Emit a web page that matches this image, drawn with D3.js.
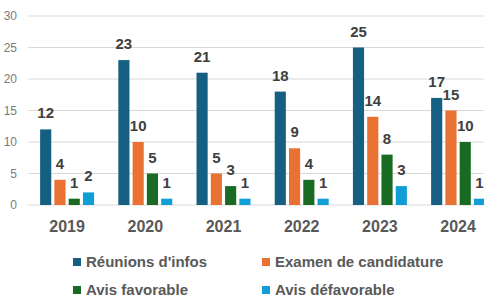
<!DOCTYPE html>
<html>
<head>
<meta charset="utf-8">
<script src="https://cdn.jsdelivr.net/npm/d3@7"></script>
<style>
  html, body { margin: 0; padding: 0; background: #ffffff; }
  svg { display: block; }
</style>
</head>
<body>
<svg id="chart" width="484" height="302"></svg>
<script>
const years = ["2019", "2020", "2021", "2022", "2023", "2024"];
const seriesNames = ["Réunions d'infos", "Examen de candidature", "Avis favorable", "Avis défavorable"];
const reunions = [12, 23, 21, 18, 25, 17];
const examen = [4, 10, 5, 9, 14, 15];
const favorable = [1, 5, 3, 4, 8, 10];
const defavorable = [2, 1, 1, 1, 3, 1];
const yTicks = [0, 5, 10, 15, 20, 25, 30];
const colors = ["#156082", "#E97132", "#196B24", "#0F9ED5"];

const seriesValues = [reunions, examen, favorable, defavorable];
const font = "'Liberation Sans', Arial, sans-serif";

const svg = d3.select("#chart");

const plotLeft = 28, step = 78.2;
const x0 = d3.scaleBand().domain(years)
  .range([plotLeft, plotLeft + step * years.length])
  .paddingInner(0.31).paddingOuter(0.155);
const x1 = d3.scaleBand().domain(seriesNames)
  .range([0, x0.bandwidth()]).paddingInner(0.22);
const y = d3.scaleLinear().domain([0, 30]).range([205, 16]);

// gridlines
svg.append("g").selectAll("line").data(yTicks).join("line")
  .attr("x1", plotLeft).attr("x2", 484)
  .attr("y1", d => y(d)).attr("y2", d => y(d))
  .attr("stroke", "#d9d9d9").attr("stroke-width", 1);

// y tick labels
svg.append("g").selectAll("text").data(yTicks).join("text")
  .attr("x", 17).attr("y", d => y(d)).attr("dy", "0.35em")
  .attr("text-anchor", "end")
  .style("font-family", font).style("font-size", "12px")
  .attr("fill", "#7a7a7a")
  .text(d => d);

// bars
const rows = [];
years.forEach((yr, i) => {
  seriesNames.forEach((s, j) => {
    rows.push({ year: yr, series: s, value: seriesValues[j][i], color: colors[j] });
  });
});

svg.append("g").selectAll("rect").data(rows).join("rect")
  .attr("x", d => x0(d.year) + x1(d.series))
  .attr("width", x1.bandwidth())
  .attr("y", d => y(d.value))
  .attr("height", d => y(0) - y(d.value))
  .attr("fill", d => d.color);

// data labels
svg.append("g").selectAll("text").data(rows).join("text")
  .attr("x", d => x0(d.year) + x1(d.series) + x1.bandwidth() / 2)
  .attr("y", d => y(d.value) - 11)
  .attr("text-anchor", "middle")
  .style("font-family", font).style("font-size", "15px").style("font-weight", "bold")
  .attr("fill", "#404040")
  .text(d => d.value);

// x axis labels
svg.append("g").selectAll("text").data(years).join("text")
  .attr("x", d => x0(d) + x0.bandwidth() / 2)
  .attr("y", 232)
  .attr("text-anchor", "middle")
  .style("font-family", font).style("font-size", "16px").style("font-weight", "bold")
  .attr("fill", "#595959")
  .text(d => d);

// legend
const legendPos = [[73, 262], [262, 262], [73, 290], [262, 290]];
const lg = svg.append("g").selectAll("g").data(seriesNames).join("g")
  .attr("transform", (d, i) => `translate(${legendPos[i][0]},${legendPos[i][1]})`);
lg.append("rect").attr("x", 0).attr("y", -4).attr("width", 8).attr("height", 8)
  .attr("fill", (d, i) => colors[i]);
lg.append("text").attr("x", 13).attr("y", 0).attr("dy", "0.35em")
  .style("font-family", font).style("font-size", "15px").style("font-weight", "bold")
  .attr("fill", "#595959")
  .text(d => d);
</script>
</body>
</html>
